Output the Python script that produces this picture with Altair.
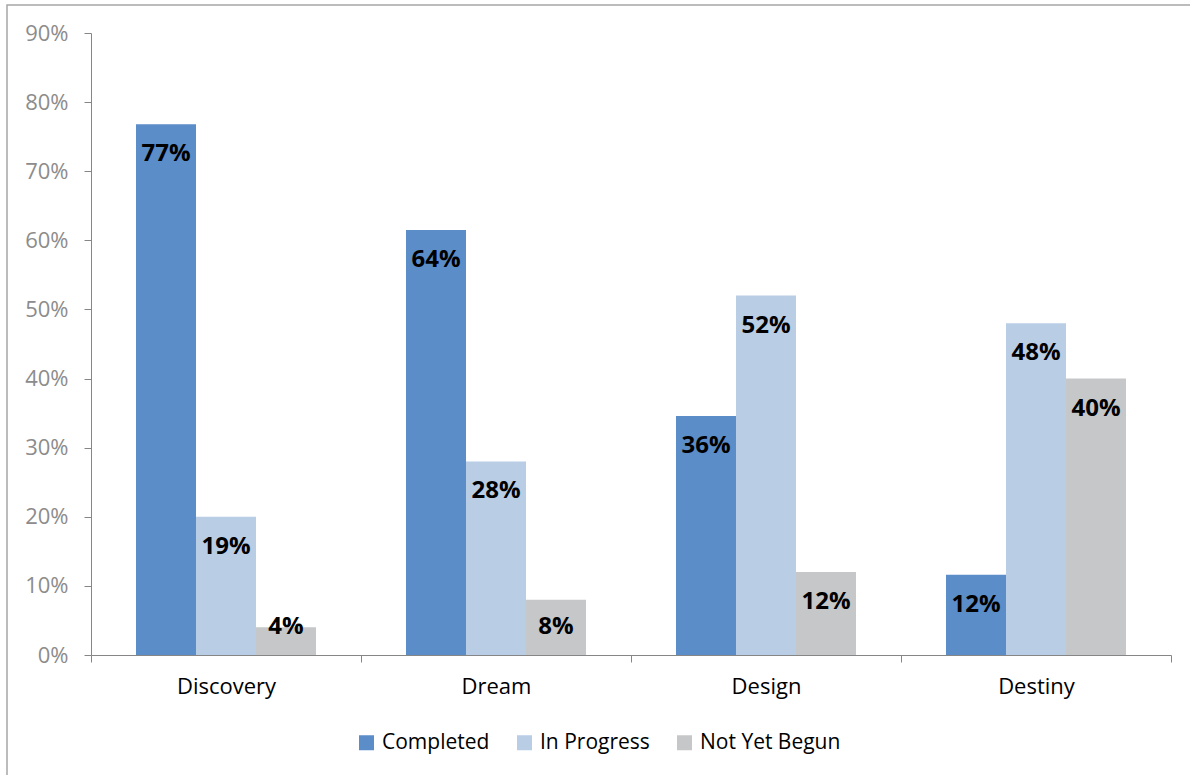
import altair as alt
import pandas as pd

categories = ["Discovery", "Dream", "Design", "Destiny"]
series = ["Completed", "In Progress", "Not Yet Begun"]
completed = [0.768, 0.615, 0.346, 0.116]
in_progress = [0.20, 0.28, 0.52, 0.48]
not_yet = [0.04, 0.08, 0.12, 0.40]
completed_labels = ["77%", "64%", "36%", "12%"]
in_progress_labels = ["19%", "28%", "52%", "48%"]
not_yet_labels = ["4%", "8%", "12%", "40%"]
colors = ["#5B8DC9", "#B9CDE5", "#C6C7C9"]

rows = []
for vals, labs, s in [(completed, completed_labels, series[0]),
                      (in_progress, in_progress_labels, series[1]),
                      (not_yet, not_yet_labels, series[2])]:
    for c, v, l in zip(categories, vals, labs):
        rows.append({"category": c, "series": s, "value": v, "label": l})
df = pd.DataFrame(rows)

FONT = "Open Sans"

x = alt.X("category:N", sort=categories, title=None,
          scale=alt.Scale(paddingInner=0, paddingOuter=0),
          axis=alt.Axis(labelAngle=0, labelFontSize=22, labelColor="#000000",
                        labelFont=FONT, labelPadding=14, tickSize=7,
                        tickBand="extent", domainColor="#868686", tickColor="#868686",
                        grid=False))
xo = alt.XOffset("series:N", sort=series,
                 scale=alt.Scale(paddingInner=0, paddingOuter=0.75))
y = alt.Y("value:Q", title=None,
          scale=alt.Scale(domain=[0, 0.9], nice=False),
          axis=alt.Axis(format=".0%", values=[i / 10 for i in range(10)],
                        labelFontSize=22, labelColor="#8C8C8C", labelFont=FONT,
                        labelPadding=16, tickSize=7, domainColor="#868686",
                        tickColor="#868686", grid=False))

bars = alt.Chart(df).mark_bar().encode(
    x=x, xOffset=xo, y=y,
    color=alt.Color("series:N", sort=series,
                    scale=alt.Scale(domain=series, range=colors),
                    legend=alt.Legend(title=None, orient="none", legendX=265, legendY=699,
                                      direction="horizontal", symbolType="square",
                                      symbolSize=225, symbolStrokeWidth=0,
                                      labelFontSize=21, labelFont=FONT,
                                      labelColor="#000000", columnPadding=24,
                                      labelOffset=5, padding=0)),
)

text = alt.Chart(df).transform_calculate(
    ly="max(datum.value - 0.0434, 0.04)"
).mark_text(fontSize=24, fontWeight="bold", font=FONT, color="#000000",
            baseline="middle", align="center").encode(
    x=alt.X("category:N", sort=categories),
    xOffset=alt.XOffset("series:N", sort=series),
    y=alt.Y("ly:Q"),
    text="label:N",
)

frame = alt.Chart(alt.Data(values=[{"a": 1}])).mark_rect(
    fill="transparent", stroke="#A6A6A6", strokeWidth=1.5).encode(
    x=alt.value(-84), x2=alt.value(1200), y=alt.value(-28), y2=alt.value(800))

chart = alt.layer(frame, bars, text).properties(
    width=1080, height=622,
    autosize=alt.AutoSizeParams(type="none"),
    padding={"left": 91, "top": 33, "right": 19, "bottom": 120},
).configure(background="#FFFFFF").configure_view(strokeWidth=0, stroke="transparent")

chart.save("out.html", embed_options={"renderer": "svg", "actions": False})
